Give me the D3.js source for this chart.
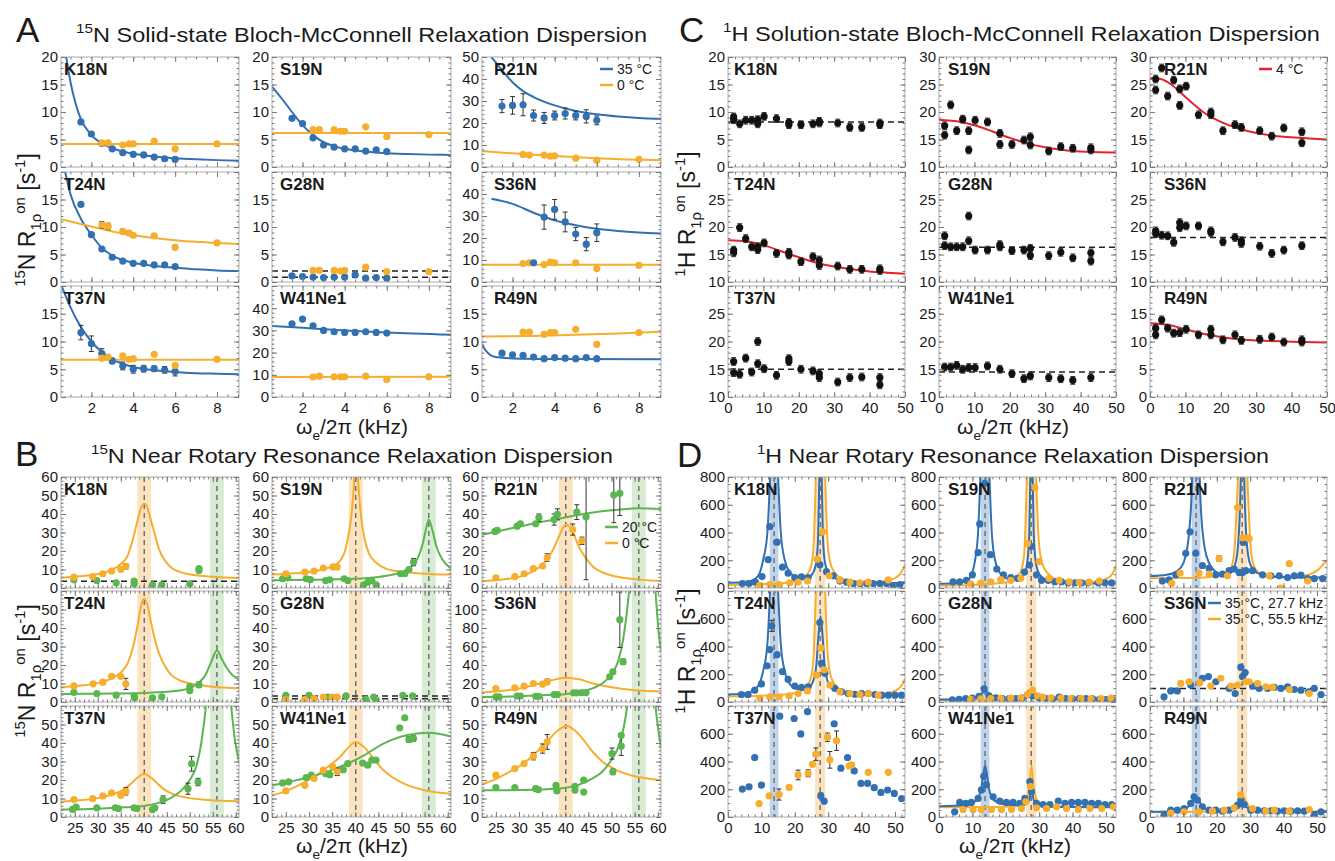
<!DOCTYPE html>
<html>
<head>
<meta charset="utf-8">
<script src="https://cdn.jsdelivr.net/npm/d3@7"></script>
<style>
  body { margin: 0; background: #fff; }
  text { font-family: "Liberation Sans", Arial, sans-serif; fill: #1a1a1a; }
</style>
</head>
<body>
<svg id="fig" width="1335" height="861"></svg>
<script>
const BLUE = "#3270b2", ORANGE = "#f7ae2e", GREEN = "#5ab64e", RED = "#e4232b";

// ---------- A : 15N solid-state Bloch-McConnell RD (kHz) ----------
const freqA = [1.5, 2, 2.5, 3, 3.5, 4, 4.5, 5, 5.5, 6];      // 35 °C
const freqA0 = [2.5, 2.8, 3.5, 3.8, 4, 5, 6, 8];             // 0 °C
const freqA_S36 = [3, 3.5, 4, 4.5, 5, 5.5, 6];

const aK18N_35 = [8.2, 6.0, 4.3, 3.3, 2.6, 2.3, 2.2, 1.8, 1.5, 1.4];
const aK18N_0 = [4.4, 4.4, 4.0, 4.2, 4.2, 4.7, 3.3, 4.2];
const aT24N_35 = [14.1, 8.6, 6.0, 4.5, 3.8, 3.4, 3.4, 3.1, 3.1, 2.8];
const aT24N_0 = [10.4, 10.1, 9.2, 8.9, 8.5, 8.4, 6.3, 7.1];
const aT24N_0err = [0.6, 0.6, 0.4, 0.4, 0.3, 0.4, 0.4, 0.2];
const aT37N_35 = [11.6, 9.6, 7.8, 6.5, 5.6, 5.0, 5.1, 5.1, 4.9, 4.6];
const aT37N_35err = [1.3, 1.4, 0.9, 0.5, 0.7, 0.7, 0.6, 0.5, 0.6, 0.8];
const aT37N_0 = [7.0, 7.2, 7.4, 6.8, 6.9, 7.7, 5.7, 6.8];
const aS19N_35 = [8.85, 7.9, 5.3, 4.0, 3.6, 3.3, 3.3, 2.9, 3.1, 2.8];
const aS19N_0 = [6.8, 6.8, 6.8, 6.5, 6.5, 7.3, 5.5, 5.9];
const aG28N_35 = [1.1, 1.0, 0.9, 0.8, 0.9, 0.9, 1.3, 0.7, 0.8, 0.7];
const aG28N_0 = [2.1, 2.1, 2.1, 2.0, 2.1, 2.7, 1.9, 1.9];
const aW41_35 = [33.0, 35.1, 32.1, 30.0, 29.4, 29.1, 29.1, 29.4, 29.1, 28.8];
const aW41_0 = [9.0, 9.4, 9.1, 9.1, 9.1, 9.4, 7.9, 9.1];
const aR21N_35 = [27.7, 28, 28.3, 23.4, 22.3, 23.4, 24.3, 23.4, 23, 21.2];
const aR21N_35err = [3, 4, 5, 2.5, 2.5, 2, 2.5, 2, 3, 2];
const aR21N_0 = [5.7, 5.4, 5.4, 4.9, 5.1, 4.0, 3.1, 3.5];
const aS36N_35 = [8.7, 29.5, 33, 27.3, 21.8, 17.2, 22.4];
const aS36N_35err = [0.5, 5.5, 4.5, 4.5, 3, 3, 4];
const aS36N_0 = [8.4, 8.7, 7.9, 9.0, 8.7, 8.7, 6.1, 7.6];
const aR49N_35 = [7.9, 7.6, 7.5, 7.2, 6.9, 7.1, 7.0, 6.9, 7.1, 6.9];
const aR49N_0 = [11.7, 11.7, 11.3, 11.6, 11.6, 12.2, 9.5, 11.6];

// fitted curves
const aK18N_fit35 = [[0.8,20],[1,15.5],[1.25,11.5],[1.5,8.7],[2,5.8],[2.5,4.3],[3,3.4],[4,2.4],[5,1.9],[6,1.6],[7,1.4],[8,1.25],[9.05,1.15]];
const aK18N_fit0 = [[0.55,4.2],[9.05,4.2]];
const aT24N_fit35 = [[0.75,20],[1,16],[1.5,11.5],[2,8.6],[2.5,6.2],[3,4.8],[4,3.5],[5,2.9],[6,2.6],[7,2.3],[8,2.1],[9.05,2.0]];
const aT24N_fit0 = [[0.55,11.4],[1,11.0],[2,10.1],[3,9.2],[4,8.5],[5,8.0],[6,7.6],[7,7.3],[8,7.1],[9.05,6.9]];
const aT37N_fit35 = [[0.6,19.8],[1,16.2],[1.5,12.6],[2,10],[2.5,8.1],[3,6.8],[3.5,6.0],[4,5.4],[5,4.8],[6,4.5],[7,4.3],[8,4.2],[9.05,4.1]];
const aT37N_fit0 = [[0.55,6.7],[9.05,6.7]];
const aS19N_fit35 = [[0.55,14.6],[1,12.5],[1.5,10],[2,7.6],[2.5,5.8],[3,4.5],[3.5,3.8],[4,3.3],[5,2.8],[6,2.5],[7,2.35],[8,2.25],[9.05,2.2]];
const aS19N_fit0 = [[0.55,6.2],[9.05,6.2]];
const aW41_fit35 = [[0.55,32],[2,31.2],[4,30],[6,29],[9.05,28]];
const aW41_fit0 = [[0.55,9.0],[9.05,9.1]];
const aR21N_fit35 = [[1.0,50],[1.5,44],[2,38.5],[2.5,34.5],[3,31.8],[4,28],[5,25.5],[6,24],[7,23],[8,22.3],[9.05,21.9]];
const aR21N_fit0 = [[0.55,7.3],[2,6.2],[4,5.0],[6,4.0],[8,3.3],[9.05,3.1]];
const aS36N_fit35 = [[1,37.8],[2,35.5],[3,31.5],[4,28],[5,25.8],[6,24.2],[7,23.2],[8,22.5],[9.05,22]];
const aS36N_fit0 = [[0.55,7.8],[9.05,7.8]];
const aR49N_fit35 = [[0.55,9.6],[0.7,8.5],[0.9,7.7],[1.2,7.2],[2,6.95],[4,6.85],[9.05,6.8]];
const aR49N_fit0 = [[0.55,10.9],[3,11],[5,11.2],[7,11.45],[9.05,11.75]];
const aG28N_flat = [0.85, 2.0];

// ---------- B : 15N near rotary resonance RD ----------
const bK18N_0 = [[24.8,5.9],[28.9,6.2],[31.1,7.7],[33,9.2],[35,10.1],[36.1,11.7,1.5]];
const bK18N_20 = [[24.8,4.4],[29.8,4.0],[34,2.8],[37.9,2.2],[37.9,3.7],[41.9,1.7],[43.9,1.7],[50,2.2],[52,10.5],[52,9.5]];
const bK18N_fit0 = [[22,5.6],[26,6.3],[30,7.6],[33,9.8],[35,13],[36.5,17.5],[37.7,27],[38.7,37],[39.5,44],[40.1,45.5],[40.7,44],[41.5,37],[42.3,30],[43.3,21],[44.7,14.5],[46,11],[48,8.6],[51,7],[55,6.1],[60.7,5.4]];
const bK18N_flat = [3.7];

const bT24N_0 = [[24.8,8.7],[29,9.8],[31.1,10.7],[33,13.9],[35,13.9],[36.1,9.8,3]];
const bT24N_20 = [[24.8,5.2],[29.8,4.6],[34,3.7],[37.9,3.3],[38,2.2],[41.9,2.2],[43.9,2.8],[50,6.1],[50,8.3],[52,9.3,1.5]];
const bT24N_fit0 = [[22,8],[26,8.8],[30,10.2],[33,12.8],[35,16],[36.5,21],[37.7,30],[38.7,42],[39.5,53],[40.1,56],[40.7,53],[41.5,44],[42.2,36],[43.2,27],[44.7,19],[46,14.5],[48,11.5],[51,9.6],[55,8.3],[60.7,7.4]];
const bT24N_fit20 = [[22,4.3],[30,4.5],[40,4.9],[45,5.5],[48,6.3],[50,7.5],[52,10.5],[53.5,15],[54.7,22],[55.9,27.8],[57,23],[58,18.5],[59.3,14.5],[60.7,12.3]];

const bT37N_0 = [[24.8,9.4],[28.9,9.9],[31.1,11.4],[33,13],[35,11.7],[36.1,13.9,2]];
const bT37N_20 = [[24.5,4.1],[25.3,5.4],[29.8,4.9],[33.8,5.0],[34.5,4.6],[37.9,4.9],[38.5,4.6],[41.9,4.0],[42.4,4.9],[44.2,9.4,2],[49.6,15.3,3],[50.4,28.8,4],[51.8,18.9,2]];
const bT37N_fit0 = [[22,8.3],[26,9],[30,10.2],[33,12],[35,14],[37,17.5],[38.5,21],[40.1,23.2],[41.7,21],[43.2,17.5],[45,14],[47,11.8],[50,10.2],[54,9.2],[60.7,8.5]];
const bT37N_fit20 = [[22,4],[30,4.5],[36,5.3],[40,6],[43,7.5],[46,10.5],[48,14],[50,20],[51.5,28],[52.5,40],[53.5,60],[54.5,95],[55.9,160],[57.2,120],[58.3,80],[59,60],[59.8,42],[60.7,30]];

const bS19N_0 = [[25,7.7],[29.1,8.6],[31.1,9.2],[33.1,10.8],[35.2,11.4],[36.1,11.4]];
const bS19N_20 = [[24.3,5.0],[25.4,5.5],[29.4,5.0],[30.3,4.6],[33.6,4.0],[34.5,4.4],[37.6,5.0],[38.4,4.0],[41.8,1.7],[42.7,3.1],[43.6,4.0],[44.5,1.7],[49.8,7.7],[50.7,7.7],[51.6,10],[52.6,14,2]];
const bS19N_fit0 = [[22,7.3],[27,8],[31,9],[34,10.8],[36,13],[37.5,18],[38.5,28],[39.2,40],[39.7,55],[40.1,75],[40.7,55],[41.2,40],[41.9,28],[42.9,19],[44.6,13.5],[46.6,10.5],[50,8.8],[54,7.9],[60.7,7.3]];
const bS19N_fit20 = [[22,4.2],[30,4.4],[40,5],[45,6],[48,7.2],[50,8.5],[52,11.5],[53.5,16],[54.6,24],[55.4,33],[55.9,37],[56.6,32],[57.6,22],[58.8,15.5],[60.7,10.5]];

const bG28N_0 = [[25,1.3],[29.1,1.3],[31.1,1.8],[33.1,2.7],[35,2.7],[36.1,2.7]];
const bG28N_20 = [[25,3.6],[30,3.6],[34.1,2.7],[38,3.3],[42.3,1.5],[44,2.7],[44.5,0.5],[50.3,3.6],[52.4,3.3]];
const bG28N_flat = [3.3, 1.8];

const bW41_0 = [[25,14.1],[29.1,17.1],[31.1,20.8],[33.1,25.3],[35.1,27.4],[36.1,24.4,2]];
const bW41_20 = [[24.3,18.4],[25.6,19],[29.4,21.3],[30.5,22.6],[33.6,23.5],[34.5,22.9],[37.4,25.6],[38.4,28.9],[41.6,29.2],[42.7,28],[43.6,30.7],[44.5,30.7],[49.6,48.2],[50.7,53.6],[51.6,41.9,1.5],[52.6,42.4,1.5]];
const bW41_fit20 = [[22,17],[26,19.2],[30,21.5],[34,24.5],[38,28.5],[42,33.5],[46,39.5],[50,43.5],[53,45],[56,45.5],[58,45],[60.7,43.5]];
const bW41_fit0 = [[22,11.7],[25,14],[28,17.5],[31,21.5],[34,27],[36.5,32],[38.5,37.5],[40.1,40.5],[42,37.5],[44,31.5],[46,25.5],[48,21.5],[51,17.5],[55,14.5],[60.7,12.5]];

const bR21N_20 = [[24.8,30.6],[25.3,31.2],[29.6,33.4],[30.3,34.7],[33.6,34.7],[34.3,38,2],[37.6,37,3],[38.3,39.8,3],[42.5,41,4],[44.5,38.5,34],[50.5,50.3,15],[51.8,51.2,12]];
const bR21N_0 = [[25,5.5],[29.1,6.2],[31.1,7.7],[33.1,10.5],[35.1,11.9],[36.1,16.5,2],[41.6,31.6,3],[43.6,25.5,2]];
const bR21N_fit20 = [[22,28.8],[26,31],[30,33.2],[34,35.3],[38,37.2],[42,39.2],[46,40.8],[50,42],[54,42.9],[56,43.1],[58,43],[60.7,42.7]];
const bR21N_fit0 = [[22,3.7],[26,4.5],[30,6],[33,9],[35,12.5],[37,19],[38.5,27],[39.5,32.5],[40.2,34.3],[41,33],[42,28],[43,22],[44.5,16],[46,11.5],[48,8.5],[51,6.2],[55,4.8],[60.7,3.8]];

const bS36N_20 = [[25,5.5],[25.7,5.5],[29.6,6.5],[30.3,6.5],[33.6,6.2],[34.3,6.2],[37.6,8],[38.3,8],[41.8,9.8],[42.5,9.8],[43.6,10.2],[44.5,10.2],[49.6,27.3],[50.3,32.7],[51.8,89,30],[52.5,43.6,3]];
const bS36N_0 = [[25,14.5],[29.1,15.3],[31.1,17.1],[33.1,20],[35.1,19.3],[36.1,21.8,3]];
const bS36N_fit0 = [[22,10.2],[27,12.5],[31,15.5],[34,19.5],[37,23.5],[40.2,26.2],[43,24.5],[46,20],[50,16],[55,12.8],[60.7,11.6]];
const bS36N_fit20 = [[22,5.5],[30,6.3],[36,7.5],[40,8.5],[43,10.5],[46,15],[48,20],[50,30],[51.5,45],[52.6,70],[53.8,120],[55.9,300],[58.3,200],[59.5,120],[60.2,75],[60.7,55]];

const bR49N_0 = [[25,22.6],[29.1,26.2],[31.1,28.9],[33.1,32.9,2],[35.1,37,2.5],[36.1,40.6,4]];
const bR49N_20 = [[25,15.9],[29.1,15.9],[33.6,15.3],[34.2,14.8],[38,17.1],[38.2,14.1],[42.1,16.6],[42.1,14.4],[44,19.9],[44,13.5],[50.1,34.3,3],[50.3,24.4,1.5],[52.1,44.2],[52.1,38.3,5]];
const bR49N_fit0 = [[22,17.7],[25,20.5],[28,24.5],[31,29],[34,35.5],[36.5,42],[38.5,47],[40.3,49.2],[42,47],[44,41.5],[46,35],[48,30],[51,25.5],[55,22],[60.7,20]];
const bR49N_fit20 = [[22,14.4],[30,14.6],[36,15],[40,15.8],[43,17.5],[46,21],[48,24.5],[50,31],[51.5,38],[52.6,48],[53.5,62],[55.9,150],[58.3,95],[59.5,60],[60.7,37]];

// ---------- C : 1H solution-state BMRD (4 °C) ----------
const errC = 0.7;
const cK18N = [[1.6,9.1],[1.6,8.6],[3.3,7.85],[5,8.5],[6.7,8.5],[8.4,8.6],[8.4,7.85],[10.2,9.2],[13.7,8.8],[17.2,8.1],[17.2,7.7],[20.6,7.7],[24,7.85],[25.8,8.3],[25.8,8.0],[31,8.0],[34.4,7.2],[37.8,7.2],[42.9,8.0],[42.9,7.7]];
const cT24N = [[1.6,15.8],[1.6,15.3],[3.3,19.9],[5,17.9],[6.7,16.4],[8.4,16.4],[8.4,15.9],[10.2,17.1],[13.7,15.2],[17.2,15.4],[17.2,14.9],[20.6,13.7],[24,14.6],[25.8,14],[25.8,13],[31,12.9],[34.4,12.3],[37.8,12.3],[42.9,12.4],[42.9,12.1]];
const cT37N = [[1.6,16.4],[1.6,14.4],[3.3,14.1],[5,17],[6.7,14.5],[8.4,16],[8.4,20],[10.2,15.1],[13.7,13.9],[17.2,16.9],[17.2,16.4],[20.6,15],[24,14.7],[25.8,14.2],[25.8,13.5],[31,12.7],[34.4,13.5],[37.8,13.6],[42.9,13.5],[42.9,12.2]];
const cS19N = [[1.6,17.5],[1.6,15.8],[3.3,21.3],[5,16.6],[6.7,18.7],[8.4,16.6],[8.4,13.1],[10.2,18.5],[13.7,18.2],[17.2,16.1],[17.2,14.1],[20.6,14.1],[24,14.9],[25.8,15.5],[25.8,14],[31,12.9],[34.4,13.7],[37.8,13.4],[42.9,13.5],[42.9,13.1]];
const cG28N = [[1.6,18.4],[1.6,16.6],[3.3,16.4],[5,16.4],[6.7,16.4],[8.4,17.5],[8.4,22],[10.2,15.8],[13.7,15.8],[17.2,16.8],[17.2,16.4],[20.6,15.7],[24,15.8],[25.8,16.1],[25.8,14.8],[31,14.8],[34.4,15.4],[37.8,14.4],[42.9,15.3],[42.9,13.8]];
const cW41 = [[1.6,15.4],[3.3,15.4],[5,15.7],[6.7,15],[8.4,15.3],[10.2,15.3],[13.7,15.6],[17.2,15],[20.6,14.2],[24,13.3],[25.8,13.8],[31,13.5],[34.4,13.3],[37.8,13],[42.9,13.5]];
const cR21N = [[1.6,26],[1.6,24],[3.3,28],[5,22.9],[6.7,25.8],[8.4,24.2],[8.4,21.2],[10.2,24.7],[13.7,19.5],[17.2,20],[17.2,19.5],[20.6,16.6],[24,17.7],[25.8,17.2],[31,16.6],[34.4,15.6],[37.8,17.1],[42.9,16.4],[42.9,14.4]];
const cS36N = [[1.6,19.3],[1.6,18.8],[3.3,18.5],[5,18.4],[6.7,17.2],[8.4,20.8],[8.4,19.9],[10.2,20.2],[13.7,20.2],[17.2,19.3],[17.2,19],[20.6,17.3],[24,18.1],[25.8,17.5],[25.8,17],[31,16.5],[34.4,15.2],[37.8,15.8],[42.9,16.6]];
const cR49N = [[1.6,12.4],[1.6,11.2],[3.3,13.9],[5,12.4],[6.7,11.5],[8.4,11.6],[10.2,12.2],[13.7,11.2],[17.2,12.2],[17.2,11.2],[20.6,10.3],[24,11.2],[25.8,10.2],[31,10.4],[34.4,10.8],[37.8,9.9],[42.9,10.3],[42.9,9.9]];
const cT24N_fit = [[0,17.6],[5,17.4],[10,16.7],[15,15.6],[20,14.5],[25,13.5],[30,12.8],[35,12.3],[40,11.9],[45,11.7],[50,11.5]];
const cS19N_fit = [[0,18.6],[5,18.3],[10,17.6],[15,16.5],[20,15.3],[25,14.3],[30,13.6],[35,13.1],[40,12.8],[45,12.7],[50,12.6]];
const cR21N_fit = [[0,26.2],[3,26],[6,25],[9,23.3],[12,21.6],[15,20],[20,18.2],[25,17],[30,16.2],[35,15.7],[40,15.4],[45,15.2],[50,15.0]];
const cR49N_fit = [[0,13.3],[5,13.0],[10,12.2],[15,11.4],[20,10.8],[25,10.4],[30,10.2],[40,9.95],[50,9.8]];
const cFlat = {K18N: 8.2, T37N: 15, G28N: 16.3, W41Ne1: 14.5, S36N: 18.1};

// ---------- D : 1H near rotary resonance RD (35 °C; 27.7 / 55.5 kHz MAS) ----------
const dK18N_b = [[4.3,32],[6.3,32],[8.2,42],[10.2,82],[12,205],[12.5,442],[14.7,330],[16.3,150],[18,107],[20,75],[22,80],[24,75],[27.5,168],[29.5,118],[31.5,88],[33.5,50],[35.5,42],[37.5,32],[39.5,32],[41.5,32],[43.5,32],[45.5,32],[47.5,32],[49.5,18],[51.5,25]];
const dK18N_o = [[9.5,20],[12.5,25],[15.3,25],[18.5,38],[21,42],[23.8,50],[26.7,208],[28.3,405],[30.3,88],[33.5,58],[36.5,42],[39.5,38],[42,42],[48,58]];
const dK18N_fitb = [[0,38],[4,42],[7,52],[9,85],[10.5,200],[11.8,400],[12.6,800],[13.8,1600],[15.0,800],[15.8,400],[17,200],[18.5,115],[20,82],[22,68],[24,75],[25.5,110],[26.5,200],[27,380],[27.35,800],[27.7,1600],[28.05,800],[28.4,380],[29,190],[30.2,105],[32.5,65],[36,48],[42,40],[53,36]];
const dK18N_fito = [[0,22],[10,28],[16,35],[20,48],[22.5,70],[24.5,130],[25.5,250],[26.3,800],[27.7,2500],[29.1,800],[29.9,300],[31,150],[33,85],[36,55],[40,44],[45,45],[48,55],[50,72],[51.5,100],[52.5,140],[53,170]];

const dT24N_b = [[4,54],[6,54],[8,85],[10,130],[11.7,261],[12.5,378],[13.1,549,40],[14.7,341],[16.3,220],[18,163],[20,115],[22,105],[24,110],[27.5,573],[28,280],[29,207],[32,98],[34,73],[36,61],[38,56],[40,61],[42,61],[44,54],[46,49],[48,49],[50,49],[52,49]];
const dT24N_o = [[9.5,29],[12.5,37],[15.3,37],[18.3,44],[21,61],[23.8,80],[26.5,195],[27.8,390],[28.8,232],[30.5,122],[33.5,73],[36.5,61],[39.5,54],[42,61],[45,49]];
const dT24N_fitb = [[0,55],[4,60],[7,75],[9,115],[10.5,220],[11.8,420],[12.6,800],[13.8,1600],[15.0,800],[15.8,420],[17,220],[18.5,130],[20,100],[22,88],[24,100],[25.5,150],[26.5,280],[27.1,480],[27.7,620],[28.3,480],[28.9,280],[29.8,150],[31,100],[33,75],[37,60],[45,55],[53,53]];
const dT24N_fito = [[0,40],[10,45],[16,52],[20,65],[22.5,90],[24.5,150],[25.5,280],[26.3,800],[27.7,2500],[29.1,800],[29.9,320],[31,170],[33,100],[36,70],[40,55],[45,55],[48,65],[50,80],[51.5,105],[52.5,140],[53,170]];

const dT37N_b = [[4.3,201],[6.3,218],[8,429],[10,230],[15.5,727],[19.8,710],[21.8,599],[23.8,759],[27.8,153,20],[28.8,114],[31.8,672],[33.8,352],[35.8,429],[37.8,332],[39.8,242],[41.8,242],[43.8,211],[45.8,177],[47.8,194],[49.8,170],[52,133]];
const dT37N_o = [[9.3,97],[12.3,153],[15.3,162,40],[18.3,213],[21,303,35],[24,315,25],[25.3,380],[26.3,453,45],[29.8,575,30],[30.5,412,60],[32.5,550,70],[36.3,368],[37,375],[42,322],[48,322]];

const dS19N_b = [[4.2,45],[6.2,45],[8.2,55],[10,95],[11.7,255],[12.2,462],[13.7,755],[15.4,240],[17.3,137],[19.3,95],[21.5,75],[23.5,70],[25.6,115],[27.1,165],[27.6,300],[29.2,95],[30.7,55],[32.7,55],[34.7,45],[36.7,45],[38.7,37],[40.7,37],[42.7,37],[44.7,37],[47.7,37],[49.7,37],[51.7,37]];
const dS19N_o = [[9.5,30],[12.5,35],[15.5,45],[18.5,60],[21.5,55],[24.5,70],[26.5,320],[28.7,725],[30,190],[33,70],[36,55],[39,45],[42,40],[45,42],[48,50]];
const dS19N_fitb = [[0,30],[4,34],[7,42],[9,65],[10.8,200],[11.7,400],[12.4,800],[13.8,1600],[15.1,800],[15.8,400],[16.8,200],[18.5,100],[20,70],[22,60],[24,65],[25.5,100],[26.5,200],[27.05,400],[27.35,800],[27.7,1600],[28.05,800],[28.35,400],[28.9,200],[30,100],[32,60],[35,42],[40,35],[53,32]];
const dS19N_fito = [[0,18],[10,22],[16,30],[20,42],[22.5,65],[24.5,120],[25.5,240],[26.3,800],[27.7,2500],[29.1,800],[29.9,330],[31,170],[33,95],[36,55],[40,40],[45,40],[48,50],[50,65],[51.5,90],[52.5,130],[53,165]];

const dG28N_b = [[4,15],[6,20],[8,25],[10,28],[12,40],[13.5,95],[15,45],[17,30],[19,25],[21,25],[23,25],[25,28],[27,60],[28,45],[30,30],[32,25],[34,22],[36,35],[38,25],[40,22],[42,25],[44,25],[46,22],[48,20],[50,18],[52,18]];
const dG28N_o = [[9.5,20],[12.5,22],[15.5,25],[18.5,25],[21.5,28],[24.5,30],[26.5,55],[28,85],[29.5,45],[31,35],[33.5,30],[36.5,28],[39.5,25],[42.5,25],[45.5,22],[48.5,25],[51.5,28]];
const dG28N_fitb = [[0,18],[8,22],[11,35],[12.8,60],[13.8,85],[14.8,60],[16.5,35],[20,24],[25,25],[27,40],[27.7,55],[28.4,40],[30,25],[35,20],[53,18]];
const dG28N_fito = [[0,15],[15,18],[23,22],[26,40],[27.2,80],[27.7,95],[28.2,80],[29.4,40],[32,24],[40,18],[48,20],[52,30],[53,38]];

const dW41_b = [[4.7,37],[6.2,105],[8,98],[9.7,105],[11.7,134],[12.7,195],[13.4,293],[14.2,232],[16.2,146],[18.2,115],[20.2,105],[22.2,105],[24.2,98],[25.7,134],[27.2,256],[27.7,183],[29.2,98],[31.2,90],[33.2,90],[35.7,115],[37.7,98],[39.7,105],[41.7,105],[43.7,105],[45.7,98],[47.7,98],[49.7,90],[51.7,90]];
const dW41_o = [[7.2,54],[10.2,54],[12.7,54],[15.7,54],[18.7,54],[21.7,54],[24.7,61],[26,110],[27.4,220],[29.2,66],[32.2,61],[35.2,73],[38.2,61],[41.7,54],[45.2,61],[48.7,61],[52.2,73]];
const dW41_fitb = [[0,78],[8,85],[11,115],[12.6,200],[13.4,330],[13.8,370],[14.2,330],[15,200],[16.5,120],[20,90],[25,85],[27,120],[27.7,200],[28.4,120],[31,80],[40,72],[53,70]];
const dW41_fito = [[0,70],[15,72],[22,75],[25.5,95],[27,200],[27.7,370],[28.4,200],[30,100],[33,80],[40,72],[48,70],[53,78]];

const dR21N_b = [[3.7,50],[5.7,58],[7.7,95],[10.7,250],[12,405],[13.7,250],[15.7,162],[17.7,142],[19.7,95],[21.7,100],[23.7,125],[25.2,137],[26.7,112],[27.7,112],[27.9,330,20],[28.7,125],[30.7,125],[33.7,95],[36.2,88],[38.7,88],[41.2,75],[43.2,88],[45.2,93],[47.2,68],[49.2,68],[51.7,68]];
const dR21N_o = [[6.5,33],[9,108],[14.7,108],[17.7,100],[20.7,212,20],[23.2,88],[26.2,580],[27.7,362],[29.2,362],[29.7,355],[35.7,88],[39.2,0],[41.7,175],[47.2,50]];
const dR21N_fitb = [[0,85],[5,95],[8,120],[10,180],[11.5,350],[12.5,700],[13.8,2000],[15,700],[16,350],[17.5,190],[19.5,120],[22,95],[24,110],[25.5,170],[26.5,350],[27.2,800],[27.7,1500],[28.2,800],[28.9,350],[30,170],[32,110],[35,85],[40,78],[53,75]];
const dR21N_fito = [[0,70],[10,72],[18,80],[22,95],[24,130],[25.2,250],[26,600],[26.5,900],[27.7,2500],[29,900],[29.5,600],[30.3,250],[31.5,140],[34,95],[40,80],[45,85],[48,100],[50,125],[51.5,160],[53,200]];

const dS36N_b = [[4.2,37],[6.2,80],[8.2,80],[12.2,122],[15.7,171],[17.5,183],[19.7,146],[23.7,98],[25.5,61],[27.2,251],[27.7,183],[28.5,212],[30.7,115],[32.7,98],[35.2,98],[37.2,105],[39.2,98],[41.2,110],[43.2,90],[45.2,85],[47.5,73],[49.2,98],[51.2,54]];
const dS36N_o = [[9.2,134],[11.7,146],[14.9,139],[18.2,115],[21.2,171],[24.2,115],[26.2,122],[28.7,146],[29.7,146],[32.2,134],[34.7,110],[36.7,105],[41.7,90],[47.7,61]];
const dS36N_flat = [98];

const dR49N_b = [[4.2,12],[6.2,49],[8.2,49],[10.2,61],[12.2,98],[13.2,146],[14.2,122],[15.7,73],[17.7,49],[19.7,49],[21.7,42],[23.7,49],[26.2,85],[27.2,122],[28.2,90],[30.2,49],[32.2,49],[34.2,45],[36.2,45],[38.2,42],[40.2,45],[42.2,42],[44.2,45],[46.2,42],[49.2,12],[51.2,37]];
const dR49N_o = [[6.2,29],[10.2,37],[14.7,37],[18.7,42],[22.2,49],[25.2,66],[27.2,159],[30.7,61],[34.7,42],[37.2,49],[41.7,42],[47.7,54]];
const dR49N_fitb = [[0,38],[8,42],[11,65],[12.8,110],[13.8,150],[14.8,110],[16.5,60],[20,42],[25,45],[27,85],[27.7,110],[28.4,85],[31,45],[40,38],[53,36]];
const dR49N_fito = [[0,35],[15,37],[22,42],[25.5,65],[27,130],[27.7,155],[28.4,130],[30,65],[33,45],[40,38],[48,40],[53,45]];

// ---------- layout ----------
const residues = [["K18N","S19N","R21N"],["T24N","G28N","S36N"],["T37N","W41Ne1","R49N"]];
const colsL = [[61,239],[272,451],[482,661]];
const colsR = [[728,905],[939,1116],[1150,1327]];
const rowsTop = [[57,167],[172,282],[286,397]];
const rowsBot = [[477,588],[591,702],[706,817]];
const nameOff = [[3,8,12],[6,9,14]];

const zip = (xs, ys, es) => xs.map((x, i) => [x, ys[i], es ? es[i] : 0]);
const svg = d3.select("#fig");
let clipN = 0;

function range(a, b, s) { const r = []; for (let v = a; v <= b + 1e-9; v += s) r.push(+v.toFixed(4)); return r; }

function panel(o) {
  const [x0, x1] = o.col, [y0, y1] = o.row;
  const x = d3.scaleLinear().domain(o.xd).range([x0, x1]);
  const y = d3.scaleLinear().domain(o.yd).range([y1, y0]);
  const g = svg.append("g");
  const id = "clip" + (clipN++);
  g.append("clipPath").attr("id", id).append("rect")
    .attr("x", x0).attr("y", y0).attr("width", x1 - x0).attr("height", y1 - y0);
  const inner = g.append("g").attr("clip-path", `url(#${id})`);

  (o.bands || []).forEach(b => {
    inner.append("rect").attr("x", x(b[0] - b[1])).attr("y", y0)
      .attr("width", x(b[0] + b[1]) - x(b[0] - b[1])).attr("height", y1 - y0).attr("fill", b[2]);
  });
  (o.bands || []).forEach(b => {
    inner.append("line").attr("x1", x(b[0])).attr("x2", x(b[0])).attr("y1", y0).attr("y2", y1)
      .attr("stroke", "#6a6a6a").attr("stroke-width", 1.4).attr("stroke-dasharray", "5,4");
  });
  (o.hlines || []).forEach(v => {
    inner.append("line").attr("x1", x0).attr("x2", x1).attr("y1", y(v)).attr("y2", y(v))
      .attr("stroke", "#222").attr("stroke-width", 1.5).attr("stroke-dasharray", "6,4");
  });
  const line = d3.line().x(d => x(d[0])).y(d => y(d[1])).curve(d3.curveMonotoneX);
  (o.curves || []).forEach(c => {
    inner.append("path").attr("d", line(c[0])).attr("fill", "none")
      .attr("stroke", c[1]).attr("stroke-width", 2);
  });
  (o.pts || []).forEach(s => {
    const data = s[0], col = s[1], def = s[2] || 0;
    data.forEach(d => {
      const e = d[2] || def;
      if (!e) return;
      const gx = x(d[0]);
      inner.append("path")
        .attr("d", `M${gx},${y(d[1] - e)}V${y(d[1] + e)}M${gx - 2.5},${y(d[1] - e)}h5M${gx - 2.5},${y(d[1] + e)}h5`)
        .attr("stroke", "#333").attr("stroke-width", 1).attr("fill", "none");
    });
    inner.append("g").selectAll("circle").data(data).join("circle")
      .attr("cx", d => x(d[0])).attr("cy", d => y(d[1])).attr("r", 3.6).attr("fill", col);
  });

  g.append("rect").attr("x", x0).attr("y", y0).attr("width", x1 - x0).attr("height", y1 - y0)
    .attr("fill", "none").attr("stroke", "#ababab").attr("stroke-width", 1);

  const yt = range(o.yd[0], o.yd[1], o.ys), ym = range(o.yd[0], o.yd[1], o.ysm);
  const xt = range(o.xt[0], o.xt[1], o.xt[2]).filter(v => v >= o.xd[0] && v <= o.xd[1]);
  const xm = range(o.xm[0], o.xm[1], o.xm[2]).filter(v => v >= o.xd[0] && v <= o.xd[1]);
  const tidy = s => { s.select(".domain").remove(); s.selectAll("line").attr("stroke", "#7a7a7a"); s.selectAll("text").attr("font-size", 15).attr("fill", "#1a1a1a").attr("font-family", "Liberation Sans, Arial, sans-serif"); };
  const top = o.yd[1];
  g.append("g").attr("transform", `translate(${x0},0)`)
    .call(d3.axisLeft(y).tickValues(yt).tickSize(-5).tickPadding(3)
      .tickFormat(v => (o.hideTop && v === top) ? "" : d3.format("d")(v))).call(tidy);
  g.append("g").attr("transform", `translate(${x0},0)`)
    .call(d3.axisLeft(y).tickValues(ym).tickSize(-2.5).tickFormat("")).call(tidy);
  g.append("g").attr("transform", `translate(${x1},0)`)
    .call(d3.axisRight(y).tickValues(yt).tickSize(-5).tickFormat("")).call(tidy);
  g.append("g").attr("transform", `translate(${x1},0)`)
    .call(d3.axisRight(y).tickValues(ym).tickSize(-2.5).tickFormat("")).call(tidy);
  g.append("g").attr("transform", `translate(0,${y1})`)
    .call(d3.axisBottom(x).tickValues(xt).tickSize(-5).tickPadding(5)
      .tickFormat(v => o.showX ? d3.format("d")(v) : "")).call(tidy);
  g.append("g").attr("transform", `translate(0,${y1})`)
    .call(d3.axisBottom(x).tickValues(xm).tickSize(-2.5).tickFormat("")).call(tidy);
  g.append("g").attr("transform", `translate(0,${y0})`)
    .call(d3.axisTop(x).tickValues(xt).tickSize(-5).tickFormat("")).call(tidy);
  g.append("g").attr("transform", `translate(0,${y0})`)
    .call(d3.axisTop(x).tickValues(xm).tickSize(-2.5).tickFormat("")).call(tidy);

  g.append("text").attr("x", x0 + o.nameDx).attr("y", y0 + 18)
    .attr("font-size", 17).attr("font-weight", "bold").attr("fill", "#111").text(o.name);
  return {x, y};
}

// ---------- panel contents ----------
const specA = {
  K18N: {yd:[0,20], ys:5, ysm:1, pts:[[zip(freqA,aK18N_35),BLUE],[zip(freqA0,aK18N_0),ORANGE]], curves:[[aK18N_fit35,BLUE],[aK18N_fit0,ORANGE]]},
  T24N: {yd:[0,20], ys:5, ysm:1, pts:[[zip(freqA,aT24N_35),BLUE],[zip(freqA0,aT24N_0,aT24N_0err),ORANGE]], curves:[[aT24N_fit35,BLUE],[aT24N_fit0,ORANGE]]},
  T37N: {yd:[0,20], ys:5, ysm:1, pts:[[zip(freqA,aT37N_35,aT37N_35err),BLUE],[zip(freqA0,aT37N_0),ORANGE]], curves:[[aT37N_fit35,BLUE],[aT37N_fit0,ORANGE]]},
  S19N: {yd:[0,20], ys:5, ysm:1, pts:[[zip(freqA,aS19N_35),BLUE],[zip(freqA0,aS19N_0),ORANGE]], curves:[[aS19N_fit35,BLUE],[aS19N_fit0,ORANGE]]},
  G28N: {yd:[0,20], ys:5, ysm:1, pts:[[zip(freqA,aG28N_35),BLUE],[zip(freqA0,aG28N_0),ORANGE]], hlines:aG28N_flat},
  W41Ne1: {yd:[0,50], ys:10, ysm:2, pts:[[zip(freqA,aW41_35),BLUE],[zip(freqA0,aW41_0),ORANGE]], curves:[[aW41_fit35,BLUE],[aW41_fit0,ORANGE]]},
  R21N: {yd:[0,50], ys:10, ysm:2, pts:[[zip(freqA,aR21N_35,aR21N_35err),BLUE],[zip(freqA0,aR21N_0),ORANGE]], curves:[[aR21N_fit35,BLUE],[aR21N_fit0,ORANGE]]},
  S36N: {yd:[0,50], ys:10, ysm:2, pts:[[zip(freqA0,aS36N_0),ORANGE],[zip(freqA_S36,aS36N_35,aS36N_35err),BLUE]], curves:[[aS36N_fit35,BLUE],[aS36N_fit0,ORANGE]]},
  R49N: {yd:[0,20], ys:5, ysm:1, pts:[[zip(freqA,aR49N_35),BLUE],[zip(freqA0,aR49N_0),ORANGE]], curves:[[aR49N_fit35,BLUE],[aR49N_fit0,ORANGE]]}
};
const specB = {
  K18N: {yd:[0,60], pts:[[bK18N_20,GREEN],[bK18N_0,ORANGE]], curves:[[bK18N_fit0,ORANGE]], hlines:bK18N_flat},
  T24N: {yd:[0,60], pts:[[bT24N_20,GREEN],[bT24N_0,ORANGE]], curves:[[bT24N_fit0,ORANGE],[bT24N_fit20,GREEN]]},
  T37N: {yd:[0,60], pts:[[bT37N_20,GREEN],[bT37N_0,ORANGE]], curves:[[bT37N_fit0,ORANGE],[bT37N_fit20,GREEN]]},
  S19N: {yd:[0,60], pts:[[bS19N_20,GREEN],[bS19N_0,ORANGE]], curves:[[bS19N_fit0,ORANGE],[bS19N_fit20,GREEN]]},
  G28N: {yd:[0,60], pts:[[bG28N_20,GREEN],[bG28N_0,ORANGE]], hlines:bG28N_flat},
  W41Ne1: {yd:[0,60], pts:[[bW41_20,GREEN],[bW41_0,ORANGE]], curves:[[bW41_fit0,ORANGE],[bW41_fit20,GREEN]]},
  R21N: {yd:[0,60], pts:[[bR21N_20,GREEN],[bR21N_0,ORANGE]], curves:[[bR21N_fit0,ORANGE],[bR21N_fit20,GREEN]]},
  S36N: {yd:[0,120], ys:20, ysm:5, pts:[[bS36N_20,GREEN],[bS36N_0,ORANGE]], curves:[[bS36N_fit0,ORANGE],[bS36N_fit20,GREEN]]},
  R49N: {yd:[0,60], pts:[[bR49N_20,GREEN],[bR49N_0,ORANGE]], curves:[[bR49N_fit0,ORANGE],[bR49N_fit20,GREEN]]}
};
const specC = {
  K18N: {yd:[0,20], pts:[[cK18N,"#111",errC]], hlines:[cFlat.K18N]},
  T24N: {yd:[10,30], pts:[[cT24N,"#111",errC]], curves:[[cT24N_fit,RED]]},
  T37N: {yd:[10,30], pts:[[cT37N,"#111",errC]], hlines:[cFlat.T37N]},
  S19N: {yd:[10,30], pts:[[cS19N,"#111",errC]], curves:[[cS19N_fit,RED]]},
  G28N: {yd:[10,30], pts:[[cG28N,"#111",errC]], hlines:[cFlat.G28N]},
  W41Ne1: {yd:[10,30], pts:[[cW41,"#111",errC]], hlines:[cFlat.W41Ne1]},
  R21N: {yd:[10,30], pts:[[cR21N,"#111",errC]], curves:[[cR21N_fit,RED]]},
  S36N: {yd:[10,30], pts:[[cS36N,"#111",errC]], hlines:[cFlat.S36N]},
  R49N: {yd:[0,20], pts:[[cR49N,"#111",errC]], curves:[[cR49N_fit,RED]]}
};
const specD = {
  K18N: {pts:[[dK18N_b,BLUE],[dK18N_o,ORANGE]], curves:[[dK18N_fito,ORANGE],[dK18N_fitb,BLUE]]},
  T24N: {pts:[[dT24N_b,BLUE],[dT24N_o,ORANGE]], curves:[[dT24N_fito,ORANGE],[dT24N_fitb,BLUE]]},
  T37N: {pts:[[dT37N_b,BLUE],[dT37N_o,ORANGE]]},
  S19N: {pts:[[dS19N_b,BLUE],[dS19N_o,ORANGE]], curves:[[dS19N_fito,ORANGE],[dS19N_fitb,BLUE]]},
  G28N: {pts:[[dG28N_b,BLUE],[dG28N_o,ORANGE]], curves:[[dG28N_fito,ORANGE],[dG28N_fitb,BLUE]]},
  W41Ne1: {pts:[[dW41_b,BLUE],[dW41_o,ORANGE]], curves:[[dW41_fito,ORANGE],[dW41_fitb,BLUE]]},
  R21N: {pts:[[dR21N_b,BLUE],[dR21N_o,ORANGE]], curves:[[dR21N_fito,ORANGE],[dR21N_fitb,BLUE]]},
  S36N: {pts:[[dS36N_b,BLUE],[dS36N_o,ORANGE]], hlines:dS36N_flat},
  R49N: {pts:[[dR49N_b,BLUE],[dR49N_o,ORANGE]], curves:[[dR49N_fito,ORANGE],[dR49N_fitb,BLUE]]}
};

const bandsB = [[40.1, 1.5, "#fbe3bf"], [55.9, 1.5, "#d7ecd3"]];
const bandsD = [[13.8, 1.3, "#bfd3ea"], [27.6, 1.5, "#fbe3bf"]];

residues.forEach((row, r) => row.forEach((name, c) => {
  const a = specA[name];
  panel(Object.assign({col: colsL[c], row: rowsTop[r], xd:[0.55, 9.05], xt:[2,8,2], xm:[0.5,9,0.5],
    hideTop: r > 0, showX: r === 2, name, nameDx: nameOff[0][c]}, a));
  const b = specB[name];
  panel(Object.assign({col: colsL[c], row: rowsBot[r], xd:[22, 60.7], xt:[25,60,5], xm:[22,60,1],
    ys:10, ysm:2, hideTop: r > 0, showX: r === 2, name, nameDx: nameOff[0][c], bands: bandsB}, b));
  const cc = specC[name];
  panel(Object.assign({col: colsR[c], row: rowsTop[r], xd:[0, 50], xt:[0,50,10], xm:[0,50,2],
    ys:5, ysm:1, hideTop: r > 0, showX: r === 2, name, nameDx: nameOff[1][c]}, cc));
  const d = specD[name];
  panel(Object.assign({col: colsR[c], row: rowsBot[r], xd:[0, 53], xt:[0,50,10], xm:[0,52,2],
    yd:[0,800], ys:200, ysm:50, hideTop: r > 0, showX: r === 2, name, nameDx: nameOff[1][c], bands: bandsD}, d));
}));

// ---------- text ----------
function rich(sel, parts, size) {
  let off = 0;
  parts.forEach(([t, k]) => {
    const target = k === "sup" ? -0.42 * size : k === "sub" ? 0.28 * size : 0;
    sel.append("tspan").attr("dy", target - off).attr("font-size", k ? size * 0.65 : size).text(t);
    off = target;
  });
}

const titles = [
  {x: 76, y: 42, w: 571, parts: [["15","sup"],["N Solid-state Bloch-McConnell Relaxation Dispersion",""]]},
  {x: 723, y: 41, w: 597, parts: [["1","sup"],["H Solution-state Bloch-McConnell Relaxation Dispersion",""]]},
  {x: 91, y: 463, w: 522, parts: [["15","sup"],["N Near Rotary Resonance Relaxation Dispersion",""]]},
  {x: 757, y: 463, w: 512, parts: [["1","sup"],["H Near Rotary Resonance Relaxation Dispersion",""]]}
];
titles.forEach(t => {
  const el = svg.append("text").attr("x", t.x).attr("y", t.y)
    .attr("font-family", "DejaVu Sans, sans-serif").attr("textLength", t.w).attr("lengthAdjust", "spacingAndGlyphs");
  rich(el, t.parts, 21);
});

[["A", 16, 42], ["B", 15, 466], ["C", 679, 42], ["D", 677, 467]].forEach(([s, x, y]) =>
  svg.append("text").attr("x", x).attr("y", y).attr("font-size", 35).attr("fill", "#111").text(s));

const yLabels = [
  {x: 35, y: 220, nuc: "15"}, {x: 35, y: 671, nuc: "15"},
  {x: 695, y: 214, nuc: "1", el: "H"}, {x: 695, y: 651, nuc: "1", el: "H"}
];
yLabels.forEach(l => {
  const el = svg.append("text").attr("transform", `translate(${l.x},${l.y}) rotate(-90)`).attr("text-anchor", "middle");
  rich(el, [[l.nuc,"sup"],[(l.el || "N") + " R",""],["1ρ","sub"],["on","sup"],[" [s",""],["-1","sup"],["]",""]], 23);
});

[[352, 434], [1013, 434], [352, 853], [1015, 853]].forEach(([x, y]) => {
  const el = svg.append("text").attr("x", x).attr("y", y).attr("text-anchor", "middle");
  rich(el, [["ω",""],["e","sub"],["/2π  (kHz)",""]], 21);
});

// ---------- legends ----------
function legend(x, y, items) {
  items.forEach((it, i) => {
    svg.append("line").attr("x1", x).attr("x2", x + 13).attr("y1", y + i * 16).attr("y2", y + i * 16)
      .attr("stroke", it[1]).attr("stroke-width", 2.5);
    svg.append("text").attr("x", x + 17).attr("y", y + i * 16 + 5).attr("font-size", 14).attr("fill", "#333").text(it[0]);
  });
}
legend(600, 69, [["35 °C", BLUE], ["0 °C", ORANGE]]);
legend(605, 527, [["20 °C", GREEN], ["0 °C", ORANGE]]);
legend(1259, 69, [["4 °C", RED]]);
legend(1208, 603, [["35 °C, 27.7 kHz", BLUE], ["35 °C, 55.5 kHz", ORANGE]]);
</script>
</body>
</html>
